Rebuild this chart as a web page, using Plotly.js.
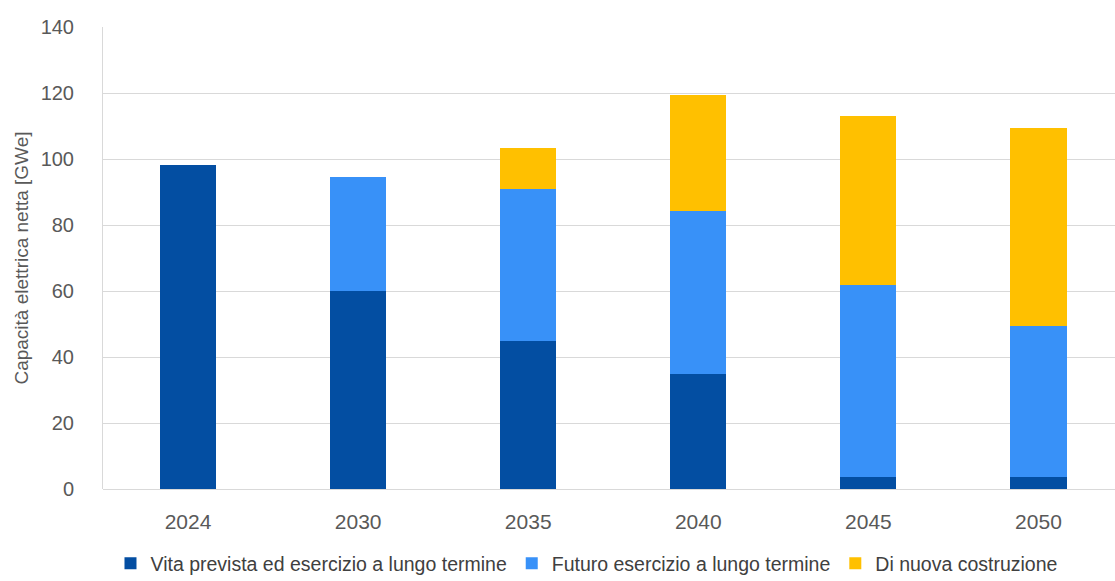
<!DOCTYPE html>
<html><head><meta charset="utf-8">
<script src="https://cdn.plot.ly/plotly-3.0.1.min.js"></script>
<style>html,body{margin:0;padding:0;background:#fff}#chart{width:1115px;height:581px}</style>
</head><body><div id="chart"></div>
<script>
const years = ["2024","2030","2035","2040","2045","2050"];
const vitaPrevista = [98.3, 60, 45, 35, 3.7, 3.7];
const futuroEsercizio = [0, 34.5, 46, 49.3, 58, 45.7];
const nuovaCostruzione = [0, 0, 12.2, 35.2, 51.2, 60];
const seriesNames = ["Vita prevista ed esercizio a lungo termine", "Futuro esercizio a lungo termine", "Di nuova costruzione"];
const colors = ["#034EA2", "#3891F8", "#FFC000"];
const yTicks = [0,20,40,60,80,100,120,140];

const data = [vitaPrevista, futuroEsercizio, nuovaCostruzione].map((v,i)=>({
  type:'bar', x:years, y:v, name:seriesNames[i], marker:{color:colors[i]}, hoverinfo:'y'
}));

const layout = {
  width:1115, height:581,
  margin:{l:103, r:0, t:27, b:92},
  barmode:'stack', bargap:0.67,
  paper_bgcolor:'#fff', plot_bgcolor:'#fff',
  font:{family:'Liberation Sans, Arial, sans-serif', color:'#595959'},
  xaxis:{type:'category', range:[-0.5,5.45], showgrid:false, zeroline:false, automargin:false,
    showline:false, ticks:'outside', ticklen:14, tickcolor:'rgba(0,0,0,0)',
    tickfont:{size:21, color:'#595959'}},
  yaxis:{range:[0,140], tickvals:yTicks, ticktext:yTicks.map(String), showgrid:true, gridcolor:'#d9d9d9', gridwidth:1,
    zeroline:true, zerolinecolor:'#d9d9d9', zerolinewidth:1, automargin:false,
    showline:true, linecolor:'#d9d9d9', linewidth:1,
    ticks:'outside', ticklen:24, tickcolor:'rgba(0,0,0,0)',
    tickfont:{size:20, color:'#595959'},
    title:{text:'Capacità elettrica netta [GWe]', standoff:6, font:{size:19, color:'#595959'}}},
  legend:{orientation:'h', xref:'container', yref:'container', x:0.526, xanchor:'center', y:0.03, yanchor:'middle',
    font:{size:19.5, color:'#404040'},
    itemwidth:30, tracegroupgap:0, traceorder:'normal'},
  showlegend:true
};
Plotly.newPlot('chart', data, layout, {displayModeBar:false, staticPlot:true});
</script></body></html>
